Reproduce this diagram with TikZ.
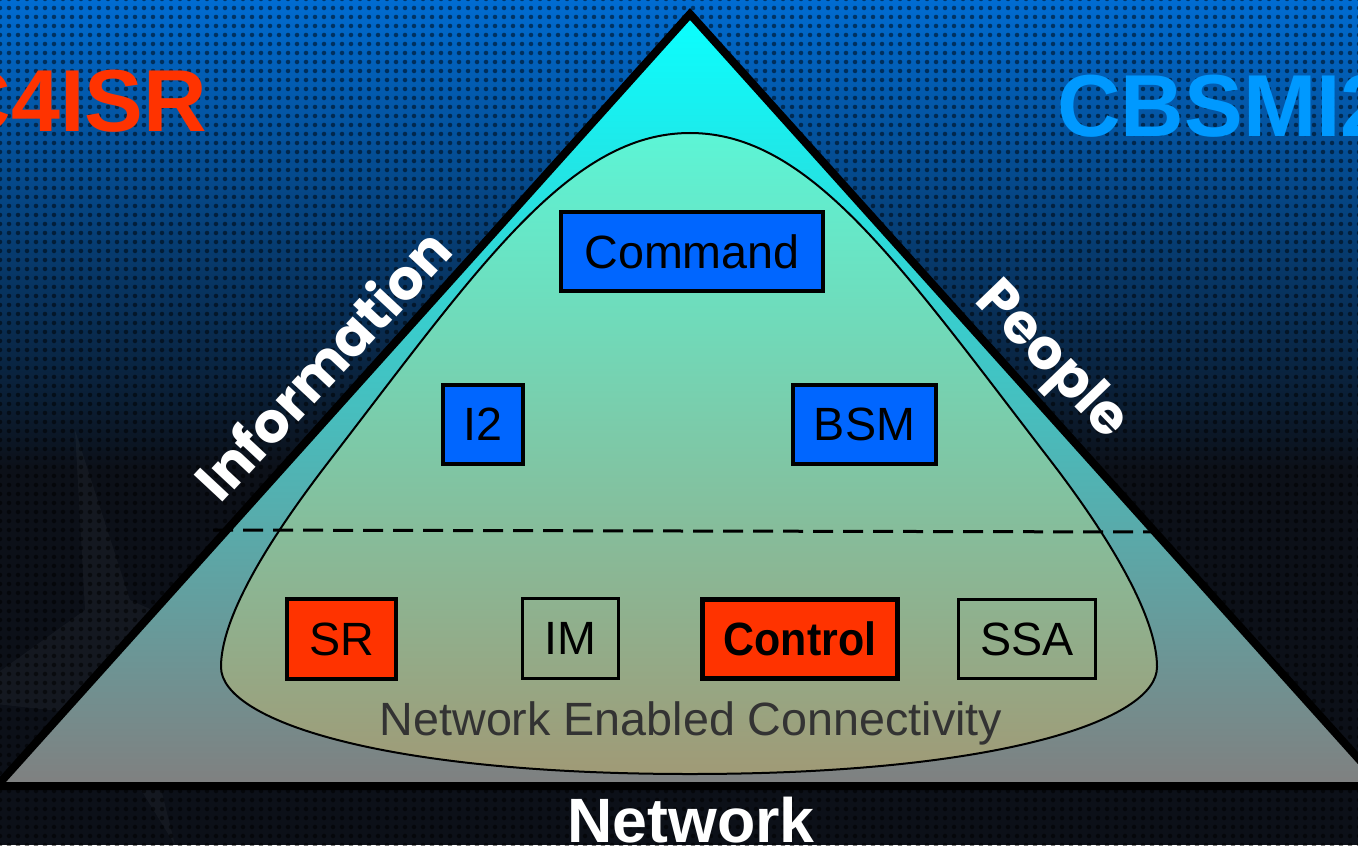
\documentclass[tikz,border=0pt]{standalone}
\usepackage{fontspec}
\setmainfont{Liberation Sans}
\newfontfamily\geofont{Poppins}
\usetikzlibrary{patterns.meta}

\definecolor{boxblue}{RGB}{0,102,255}
\definecolor{boxred}{RGB}{255,51,0}
\definecolor{titleblue}{RGB}{0,153,255}
\definecolor{bgtop}{RGB}{0,108,210}
\definecolor{bgdark}{RGB}{12,16,24}
\definecolor{pyrtop}{RGB}{10,255,255}
\definecolor{pyrbot}{RGB}{128,128,128}
\definecolor{belltop}{RGB}{92,245,214}
\definecolor{bellbot}{RGB}{160,154,118}
\definecolor{nectext}{RGB}{51,51,51}

\begin{document}
\begin{tikzpicture}[x=0.75pt,y=0.75pt,yscale=-1,xscale=1,
  boxtext/.style={font=\fontsize{35}{40}\selectfont,inner sep=0pt,minimum height=59.5pt},
  bluebox/.style={boxtext,draw=black,line width=3pt,fill=boxblue},
  redbox/.style={boxtext,draw=black,line width=3pt,fill=boxred},
  plainbox/.style={boxtext,draw=black,line width=2.25pt},
  sidetext/.style={text=white,font=\geofont\bfseries\fontsize{42}{46}\selectfont,inner sep=0pt}]
\useasboundingbox (0,0) rectangle (1358,845);

%Background
\shade [top color=bgtop,bottom color=bgdark] (0,0) rectangle (1358,470);
\fill [bgdark] (0,469) rectangle (1358,845);
\fill [white,fill opacity=0.035] (75,430) -- (130,600) -- (330,690) -- (140,705) -- (175,845) -- (95,715) -- (-40,700) -- (85,610) -- cycle;
\fill [pattern={Dots[distance=6.75pt,radius=1.7pt]},pattern color=black,fill opacity=0.5] (0,0) rectangle (1358,845);

%Shape: Triangle
\draw [line width=6pt,line join=miter,top color=pyrtop,bottom color=pyrbot] (690,14) -- (-3,786) -- (1383,786) -- cycle;
%Shape: Bell
\draw [line width=1.5pt,top color=belltop,bottom color=bellbot] (690,133) .. controls (810,133) and (900,265) .. (1050,460) .. controls (1090,512) and (1157,607) .. (1157,667) .. controls (1157,720) and (1000,774) .. (690,774) .. controls (380,774) and (221,720) .. (221,667) .. controls (221,607) and (290,512) .. (330,460) .. controls (480,265) and (570,133) .. (690,133) -- cycle;
%Straight Lines
\draw [line width=2.25pt,dash pattern={on 15pt off 7.5pt}] (213,530) -- (1155,532);

% Box Nodes
\node [bluebox,minimum width=196.5pt] (command) at (692,251.5) {Command};
\node [bluebox,minimum width=60pt] (itwo) at (483,424.5) {I2};
\node [bluebox,minimum width=107.25pt] (bsm) at (864.5,424.5) {BSM};
\node [redbox,minimum width=81.75pt] (sr) at (341.5,639) {SR};
\node [plainbox,minimum width=72pt] (im) at (570.5,638.5) {IM};
\node [redbox,line width=3.75pt,minimum width=146.25pt] (control) at (800,639) {\scalebox{0.92}[1]{\bfseries Control}};
\node [plainbox,minimum width=102.75pt] (ssa) at (1027,639) {SSA};

% Text Node
\node [anchor=base,text=nectext,font=\fontsize{35}{40}\selectfont,inner sep=0pt] (nec) at (691,735) {Network Enabled Connectivity};
% Text Node
\node [anchor=base,text=white,font=\bfseries\fontsize{47}{52}\selectfont,inner sep=0pt] (network) at (691,842) {Network};
% Text Node
\node [anchor=base east,text=boxred,font=\bfseries\fontsize{66}{70}\selectfont,inner sep=0pt] (cfourisr) at (207,132) {C4ISR};
% Text Node
\node [anchor=base west,text=titleblue,font=\bfseries\fontsize{66}{70}\selectfont,inner sep=0pt] (cbsmi) at (1057,137) {CBSMI2};
% Text Node
\node [sidetext,rotate=47] (information) at (322,364) {Information};
% Text Node
\node [sidetext,rotate=-46] (people) at (1050,362) {People};

\end{tikzpicture}
\end{document}
